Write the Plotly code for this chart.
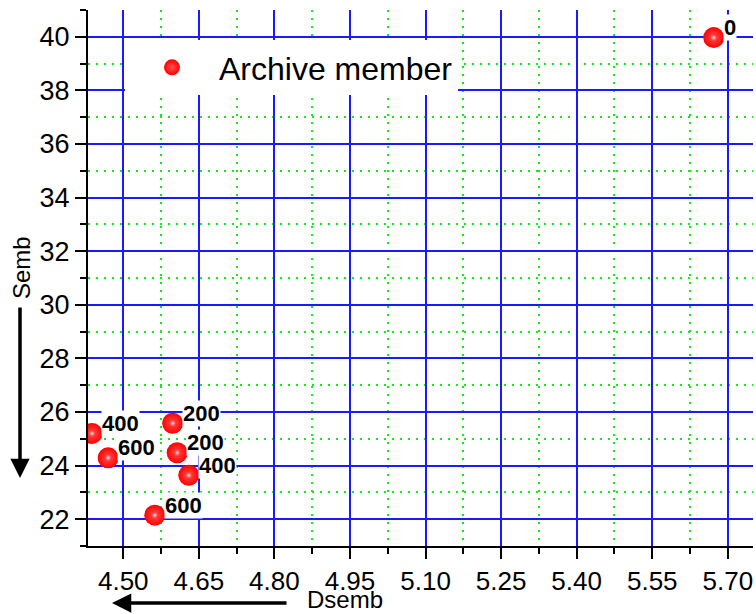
import plotly.graph_objects as go

dsemb = [5.672, 4.438, 4.470, 4.598, 4.607, 4.630, 4.5625]
semb = [39.97, 25.20, 24.29, 25.58, 24.48, 23.64, 22.15]
labels = ["0", "400", "600", "200", "200", "400", "600"]

W, H = 756, 614
ML, MR, MT, MB = 88, 3, 10, 68
PW, PH = W - ML - MR, H - MT - MB


def px(x):
    return (x - ML) / PW


def py(y):
    return (H - MB - y) / PH


FONT = "Liberation Sans, Arial, sans-serif"
BLUE = "#1a1aff"
GREEN = "#10f010"

fig = go.Figure()
fig.add_trace(go.Scatter(
    x=dsemb, y=semb, mode="markers", name="Archive member",
    marker=dict(size=21, color="#ff0000",
                gradient=dict(type="radial", color="#ff5050"),
                line=dict(width=0)),
    showlegend=True,
))
fig.add_trace(go.Scatter(
    x=dsemb, y=semb, mode="markers", showlegend=False, hoverinfo="skip",
    marker=dict(size=9, color="rgba(255,0,0,0)",
                gradient=dict(type="radial", color="rgba(255,255,255,0.95)"),
                line=dict(width=0)),
))

annotations = []
for xv, yv, t in zip(dsemb, semb, labels):
    annotations.append(dict(
        x=xv, y=yv, xref="x", yref="y", text="<b>%s</b>" % t,
        showarrow=False, xanchor="left", yanchor="middle",
        xshift=9, yshift=10, bgcolor="white", borderpad=0,
        font=dict(family=FONT, size=22, color="black"),
    ))

# axis titles
annotations.append(dict(
    x=px(21), y=py(268), xref="paper", yref="paper", text="Semb",
    textangle=-90, showarrow=False, xanchor="center", yanchor="middle",
    font=dict(family=FONT, size=24, color="black"),
))
annotations.append(dict(
    x=px(345), y=py(614), xref="paper", yref="paper", text="Dsemb",
    showarrow=False, xanchor="center", yanchor="bottom", borderpad=0,
    font=dict(family=FONT, size=24, color="black"),
))
# arrows
annotations.append(dict(
    x=px(20), y=py(478), xref="paper", yref="paper", text="",
    showarrow=True, ax=0, ay=-172, arrowhead=2, arrowwidth=3.5,
    arrowsize=1.1, arrowcolor="black",
))
annotations.append(dict(
    x=px(112), y=py(603), xref="paper", yref="paper", text="",
    showarrow=True, ax=176, ay=0, arrowhead=2, arrowwidth=3.5,
    arrowsize=1.1, arrowcolor="black",
))

fig.update_layout(
    width=W, height=H,
    margin=dict(l=ML, r=MR, t=MT, b=MB, autoexpand=False),
    paper_bgcolor="white", plot_bgcolor="white",
    font=dict(family=FONT, color="black"),
    annotations=annotations,
    legend=dict(
        x=px(125), y=py(40), xanchor="left", yanchor="top",
        bgcolor="white", borderwidth=0, itemwidth=84,
        font=dict(family=FONT, size=32, color="black"),
    ),
    xaxis=dict(
        range=[4.43, 5.75], tick0=4.5, dtick=0.15, tickformat=".2f",
        showgrid=True, gridcolor=BLUE, gridwidth=1.6,
        ticks="outside", ticklen=11, tickwidth=2, tickcolor="black",
        showline=True, linecolor="black", linewidth=2, zeroline=False,
        tickfont=dict(family=FONT, size=26, color="black"),
        minor=dict(dtick=0.075, tick0=4.5, showgrid=True, gridcolor=GREEN,
                   griddash="2px,6px", gridwidth=2, ticks="outside", ticklen=6,
                   tickwidth=2, tickcolor="black"),
    ),
    yaxis=dict(
        range=[21, 41], tick0=22, dtick=2,
        showgrid=True, gridcolor=BLUE, gridwidth=1.6,
        ticks="outside", ticklen=11, tickwidth=2, tickcolor="black",
        showline=True, linecolor="black", linewidth=2, zeroline=False,
        tickfont=dict(family=FONT, size=27, color="black"),
        minor=dict(dtick=1, tick0=21, showgrid=True, gridcolor=GREEN,
                   griddash="2px,6px", gridwidth=2, ticks="outside", ticklen=6,
                   tickwidth=2, tickcolor="black"),
    ),
)

fig.write_html(
    "out.html",
    config={"displayModeBar": False},
    post_script="document.body.style.margin='0';document.body.style.overflow='hidden';",
)
